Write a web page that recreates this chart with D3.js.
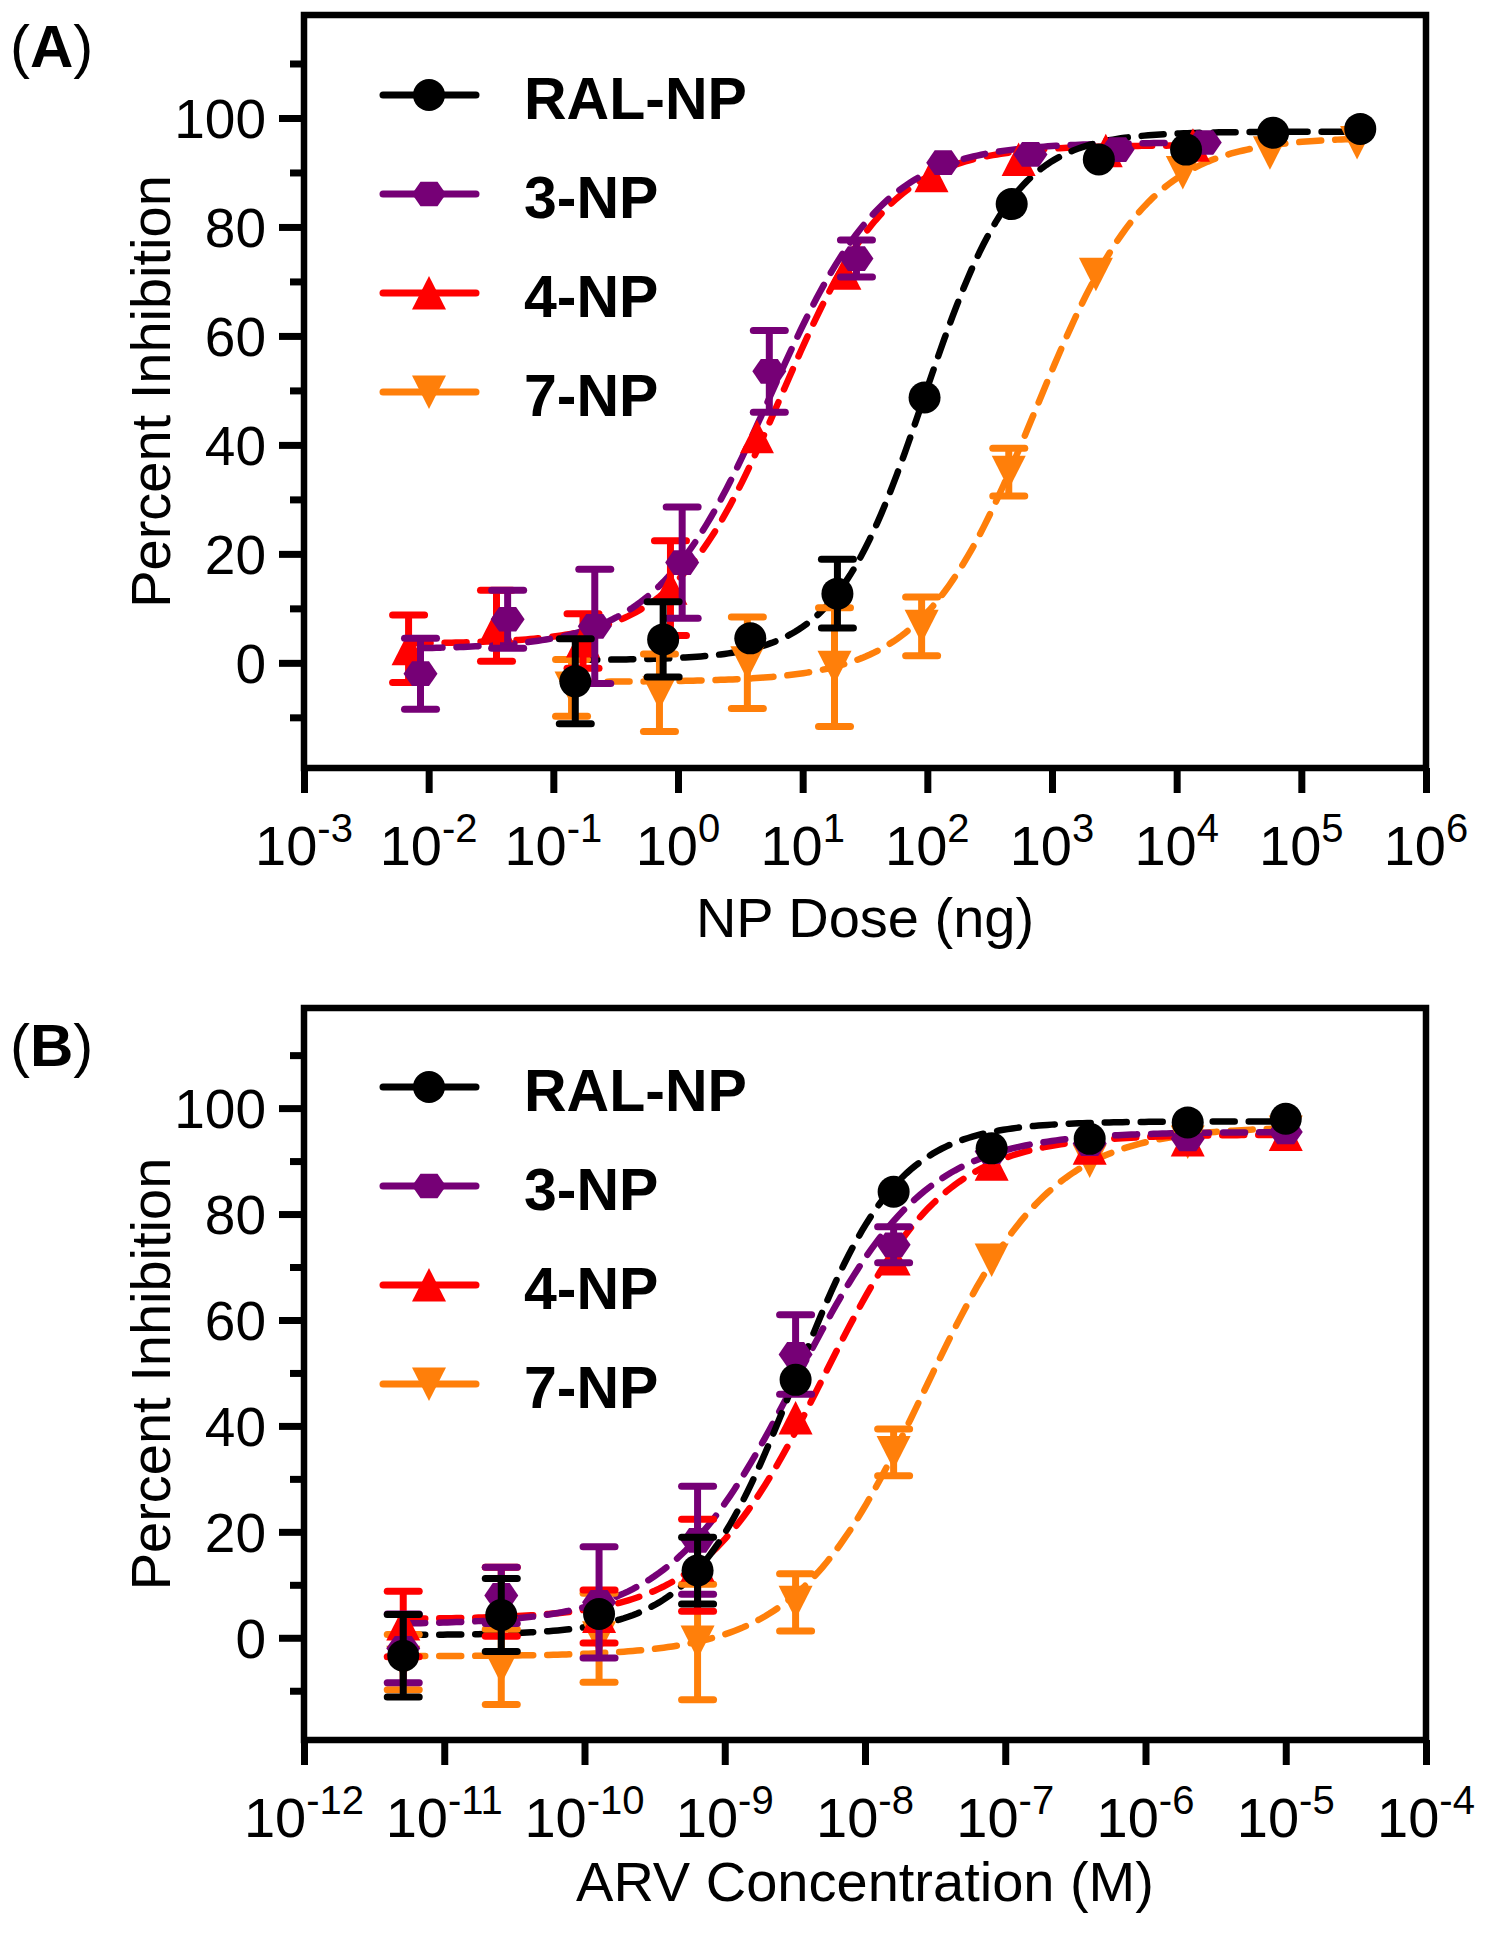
<!DOCTYPE html>
<html><head><meta charset="utf-8">
<script src="https://cdn.jsdelivr.net/npm/d3@7"></script>
<style>
body{margin:0;background:#fff}
svg{display:block}
text{font-family:"Liberation Sans",Arial,Helvetica,sans-serif;fill:#000}
</style>
</head><body>
<svg id="chart" width="1489" height="1950"></svg>
<script>
// ---------------- DATA ----------------
const seriesNames = ["RAL-NP", "3-NP", "4-NP", "7-NP"];

// Panel A: NP dose (ng)
const doseRAL = [0.15, 0.76, 3.8, 19, 95, 475, 2375, 11900, 59400, 297000];
const dose3NP = [0.0086, 0.043, 0.215, 1.08, 5.4, 27, 134, 672, 3360, 16800];
const dose4NP = [0.0069, 0.035, 0.173, 0.87, 4.3, 21.6, 108, 540, 2700, 13500];
const dose7NP = [0.14, 0.71, 3.6, 18, 90, 450, 2250, 11200, 56000, 280000];

// Panel B: ARV concentration (M), shared by all series
const concARV = [5.1e-12, 2.55e-11, 1.27e-10, 6.4e-10, 3.2e-9, 1.6e-8, 8.0e-8, 4.0e-7, 2.0e-6, 1.0e-5];

// Percent inhibition (mean) and SD, same for both panels
const inhRAL = [-3.4, 4.3, 4.5, 12.7, 48.7, 84.2, 92.4, 94.2, 97.3, 98.0];
const sdRAL  = [7.8, 6.9, 0.8, 6.3, 1.0, 1.0, 1.0, 1.0, 0.8, 0.8];
const inh3NP = [-2.0, 8.0, 6.7, 18.4, 53.5, 74.2, 91.8, 93.3, 94.2, 95.5];
const sd3NP  = [6.5, 5.3, 10.5, 10.2, 7.5, 3.4, 1.0, 0.8, 0.8, 0.8];
const inh4NP = [2.6, 6.8, 4.0, 13.7, 41.5, 71.5, 89.4, 92.4, 94.0, 95.0];
const sd4NP  = [6.2, 6.5, 5.0, 8.7, 2.0, 2.0, 1.0, 1.0, 1.0, 1.0];
const inh7NP = [-4.6, -5.5, 0.0, -0.8, 6.7, 35.0, 71.3, 90.0, 93.6, 95.5];
const sd7NP  = [5.2, 7.1, 8.4, 10.9, 5.4, 4.4, 1.0, 1.0, 1.0, 1.0];

// Four-parameter logistic fits
const fitBottom = [0.5, 2.5, 3.5, -3.5];
const fitTop    = [97.5, 95.5, 95.0, 96.5];
const fitHill   = [1.2, 0.95, 1.0, 0.96];
const fitEC50Dose = [95, 5.5, 6.8, 740];
const fitEC50Conc = [3.2e-9, 3.26e-9, 5.06e-9, 2.63e-8];

// Tick labels
const xExpA = [-3, -2, -1, 0, 1, 2, 3, 4, 5, 6];
const xExpB = [-12, -11, -10, -9, -8, -7, -6, -5, -4];
const yMajor = [0, 20, 40, 60, 80, 100];
const yMinor = [-10, 10, 30, 50, 70, 90, 110];

// ---------------- STYLE ----------------
const colors = ["#000000", "#760076", "#ff0000", "#ff7f0a"];
const shapes = ["circle", "hexagon", "up", "down"];
const FONT = '"Liberation Sans", Arial, Helvetica, sans-serif';
const MARKER_HALF = 16;

const svg = d3.select("#chart");

function markerPath(shape) {
  if (shape === "circle") return d3.arc()({innerRadius:0, outerRadius:16, startAngle:0, endAngle:2*Math.PI});
  if (shape === "hexagon") {
    const R = 17, pts = d3.range(6).map(i => [R*Math.cos(i*Math.PI/3), 0.84*R*Math.sin(i*Math.PI/3)]);
    return "M" + pts.map(p => p.join(",")).join("L") + "Z";
  }
  if (shape === "up") return "M0,-17L17,16.5L-17,16.5Z";
  return "M0,17L17,-16.5L-17,-16.5Z";
}

function drawPanel(cfg) {
  const g = svg.append("g");
  const x = d3.scaleLog().domain(cfg.xDomain).range([cfg.left, cfg.right]);
  const y = d3.scaleLinear().domain([-19.3, 118.9]).range([cfg.bottom, cfg.top]);

  // y axis major
  const yAxis = g.append("g").attr("transform", `translate(${cfg.left},0)`)
    .call(d3.axisLeft(y).tickValues(yMajor).tickSize(25).tickPadding(13).tickFormat(d3.format("d")));
  yAxis.select(".domain").remove();
  yAxis.selectAll(".tick line").attr("stroke", "#000").attr("stroke-width", 7);
  yAxis.selectAll(".tick text").style("font-family", FONT).style("font-size", "55px").attr("fill", "#000").attr("dy", "0.36em");
  const yAxis2 = g.append("g").attr("transform", `translate(${cfg.left},0)`)
    .call(d3.axisLeft(y).tickValues(yMinor).tickSize(14).tickFormat(""));
  yAxis2.select(".domain").remove();
  yAxis2.selectAll(".tick line").attr("stroke", "#000").attr("stroke-width", 7);

  // x axis ticks
  const xAxis = g.append("g").attr("transform", `translate(0,${cfg.bottom})`)
    .call(d3.axisBottom(x).tickValues(cfg.xExp.map(e => Math.pow(10, e))).tickSize(25).tickFormat(""));
  xAxis.select(".domain").remove();
  xAxis.selectAll(".tick line").attr("stroke", "#000").attr("stroke-width", 7);

  // x tick labels 10^n
  cfg.xExp.forEach(e => {
    const t = g.append("text").attr("x", x(Math.pow(10, e))).attr("y", cfg.bottom + 97)
      .attr("text-anchor", "middle").style("font-size", "56px");
    t.append("tspan").text("10");
    t.append("tspan").attr("dy", -23).style("font-size", "40px").text(String(e));
  });

  // frame
  g.append("rect").attr("x", cfg.left).attr("y", cfg.top)
    .attr("width", cfg.right - cfg.left).attr("height", cfg.bottom - cfg.top)
    .attr("fill", "none").attr("stroke", "#000").attr("stroke-width", 6.5);

  // axis titles
  g.append("text").attr("x", (cfg.left + cfg.right) / 2).attr("y", cfg.xTitleY)
    .attr("text-anchor", "middle").style("font-size", "56px").text(cfg.xTitle);
  g.append("text").attr("transform", `translate(170,${(cfg.top + cfg.bottom) / 2}) rotate(-90)`)
    .attr("text-anchor", "middle").style("font-size", "56px").text("Percent Inhibition");

  // panel label
  const pl = g.append("text").attr("x", 10).attr("y", cfg.labelY).style("font-size", "60px");
  pl.append("tspan").text("(");
  pl.append("tspan").style("font-weight", "bold").text(cfg.label);
  pl.append("tspan").text(")");

  const order = [3, 2, 1, 0];
  // fitted curves
  order.forEach(i => {
    const xs = cfg.xs[i];
    const lo = Math.log10(xs[0]), hi = Math.log10(xs[xs.length - 1]);
    const pts = d3.range(0, 201).map(k => {
      const xv = Math.pow(10, lo + (hi - lo) * k / 200);
      const yv = fitBottom[i] + (fitTop[i] - fitBottom[i]) / (1 + Math.pow(cfg.ec50[i] / xv, fitHill[i]));
      return [xv, yv];
    });
    g.append("path").attr("d", d3.line().x(d => x(d[0])).y(d => y(d[1]))(pts))
      .attr("fill", "none").attr("stroke", colors[i]).attr("stroke-width", 6.5)
      .attr("stroke-dasharray", "22,14").attr("stroke-linecap", "round");
  });

  // error bars and markers
  order.forEach(i => {
    const xs = cfg.xs[i], ys = cfg.ys[i], sds = cfg.sds[i];
    const sg = g.append("g");
    xs.forEach((xv, k) => {
      const cx = x(xv), cy = y(ys[k]), y1 = y(ys[k] + sds[k]), y2 = y(ys[k] - sds[k]);
      if (cy - y1 <= MARKER_HALF + 2) return; // bar hidden inside marker
      sg.append("line").attr("x1", cx).attr("x2", cx).attr("y1", y1).attr("y2", y2)
        .attr("stroke", colors[i]).attr("stroke-width", 7);
      [y1, y2].forEach(yy => sg.append("line").attr("x1", cx - 16).attr("x2", cx + 16).attr("y1", yy).attr("y2", yy)
        .attr("stroke", colors[i]).attr("stroke-width", 7).attr("stroke-linecap", "round"));
    });
    sg.selectAll("path.m").data(xs).enter().append("path").attr("class", "m")
      .attr("d", markerPath(shapes[i]))
      .attr("transform", (d, k) => `translate(${x(d)},${y(ys[k])})`)
      .attr("fill", colors[i]);
  });

  // legend
  seriesNames.forEach((name, i) => {
    const ly = cfg.legendY + i * 99;
    g.append("line").attr("x1", 383).attr("x2", 476).attr("y1", ly).attr("y2", ly)
      .attr("stroke", colors[i]).attr("stroke-width", 7).attr("stroke-linecap", "round");
    g.append("path").attr("d", markerPath(shapes[i])).attr("transform", `translate(429,${ly})`).attr("fill", colors[i]);
    g.append("text").attr("x", 524).attr("y", ly + 24).style("font-size", "59px").style("font-weight", "bold").text(name);
  });
}

drawPanel({
  left: 304, right: 1426, top: 15, bottom: 768,
  xDomain: [1e-3, 1e6], xExp: xExpA,
  xs: [doseRAL, dose3NP, dose4NP, dose7NP],
  ys: [inhRAL, inh3NP, inh4NP, inh7NP],
  sds: [sdRAL, sd3NP, sd4NP, sd7NP],
  ec50: fitEC50Dose,
  xTitle: "NP Dose (ng)", xTitleY: 937,
  label: "A", labelY: 67, legendY: 95
});
drawPanel({
  left: 304, right: 1426, top: 1008, bottom: 1740,
  xDomain: [1e-12, 1e-4], xExp: xExpB,
  xs: [concARV, concARV, concARV, concARV],
  ys: [inhRAL, inh3NP, inh4NP, inh7NP],
  sds: [sdRAL, sd3NP, sd4NP, sd7NP],
  ec50: fitEC50Conc,
  xTitle: "ARV Concentration (M)", xTitleY: 1901,
  label: "B", labelY: 1066, legendY: 1087
});
</script>
</body></html>
